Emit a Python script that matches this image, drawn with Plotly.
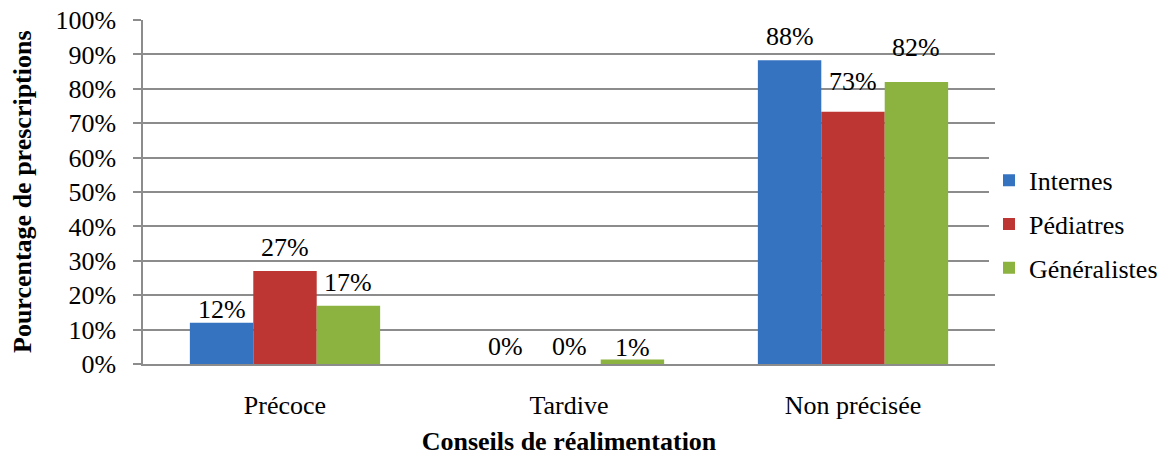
import plotly.graph_objects as go

categories = ["Précoce", "Tardive", "Non précisée"]
internes = [12, 0, 88.3]
pediatres = [27, 0, 73.3]
generalistes = [16.9, 1.3, 82]
series_names = ["Internes", "Pédiatres", "Généralistes"]
colors = ["#3573c0", "#bd3633", "#8cb23f"]
y_ticks = [0, 10, 20, 30, 40, 50, 60, 70, 80, 90, 100]
# vertical gap (px) between bar top and label baseline, as placed in the original
label_gaps = [[7, 11, 17], [17, 11, 24], [17, 6, 28]]

font = "Liberation Serif"
FS = 26
W, H = 1169, 459
ML, MR, MT, MB = 143, 174, 20, 95
BARGAP = 0.33

fig = go.Figure()
all_vals = [internes, pediatres, generalistes]
for i, (name, vals, col) in enumerate(zip(series_names, all_vals, colors)):
    fig.add_trace(go.Bar(
        x=categories, y=vals, name=name, legendgroup=f"g{i}",
        marker=dict(color=col, line=dict(width=0)),
    ))

plot_w = W - ML - MR
bar_w = plot_w / len(categories) * (1 - BARGAP) / len(series_names)
for i, vals in enumerate(all_vals):
    for j, v in enumerate(vals):
        fig.add_annotation(
            x=categories[j], y=v, xref="x", yref="y",
            text=f"{round(v)}%", showarrow=False,
            xshift=(i - 1) * bar_w, yshift=label_gaps[i][j] + 6.5,
            yanchor="middle", xanchor="center",
            font=dict(family=font, size=FS, color="black"),
        )

fig.add_annotation(
    x=0, y=0.5, xref="paper", yref="paper", xshift=-121,
    text="<b>Pourcentage de prescriptions</b>", textangle=-90,
    showarrow=False, xanchor="center", yanchor="middle",
    font=dict(family=font, size=FS, color="black"),
)

fig.update_layout(
    width=W, height=H,
    margin=dict(l=ML, r=MR, t=MT, b=MB, autoexpand=False),
    paper_bgcolor="white", plot_bgcolor="white",
    barmode="group", bargap=BARGAP, bargroupgap=0,
    font=dict(family=font, size=FS, color="black"),
    showlegend=True,
    legend=dict(x=989 / W, xref="container", y=0.406, yref="paper",
                yanchor="middle", xanchor="left",
                font=dict(family=font, size=FS, color="black"),
                traceorder="grouped", tracegroupgap=7,
                itemwidth=30),
    xaxis=dict(
        title=dict(text="<b>Conseils de réalimentation</b>", font=dict(family=font, size=FS), standoff=13),
        showline=True, linecolor="#8c8c8c", linewidth=1.5,
        ticks="", ticklabelstandoff=17, automargin=False,
        tickfont=dict(family=font, size=FS),
    ),
    yaxis=dict(
        range=[0, 100], tickvals=y_ticks, ticktext=[f"{t}%" for t in y_ticks],
        showgrid=True, gridcolor="#8c8c8c", gridwidth=1.5,
        showline=True, linecolor="#8c8c8c", linewidth=1.5,
        ticks="outside", ticklen=8, tickcolor="#8c8c8c", tickwidth=1.5,
        ticklabelstandoff=12,
        tickfont=dict(family=font, size=FS), automargin=False,
        zeroline=False,
    ),
)
fig.write_html(
    "out.html",
    config={"displayModeBar": False, "responsive": False},
    default_width=f"{W}px", default_height=f"{H}px",
    post_script="document.body.style.margin='0';document.body.style.overflow='hidden';",
)
